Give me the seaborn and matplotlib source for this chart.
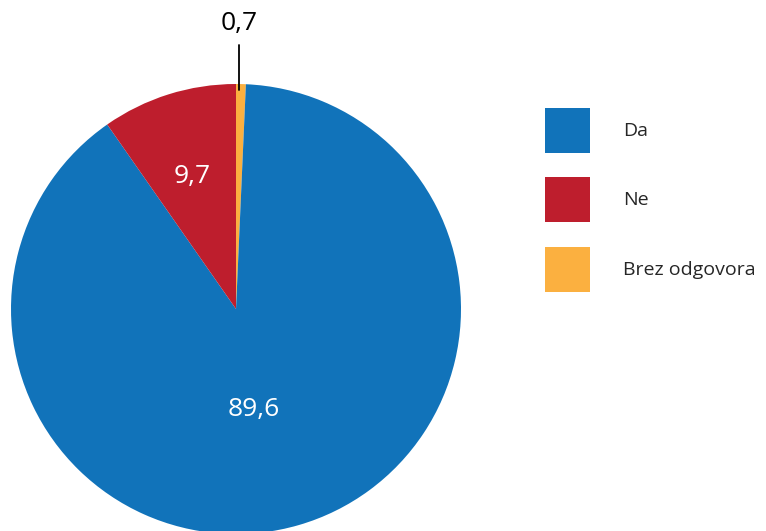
import numpy as np
import matplotlib
matplotlib.use("Agg")
import matplotlib.pyplot as plt
import seaborn as sns
from matplotlib.patches import Patch

sns.set_theme(style="white")
plt.rcParams['font.family'] = ['Open Sans', 'DejaVu Sans']

categories = ["Da", "Ne", "Brez odgovora"]
values = [89.6, 9.7, 0.7]
labels = ["89,6", "9,7", "0,7"]
colors = ["#1173BA", "#BE1E2D", "#FBB040"]

# drawing order clockwise from top: Brez, Da, Ne
order = [2, 0, 1]

fig = plt.figure(figsize=(7.66, 5.31), dpi=100)
R = 225
cx, cy = 236, 309
ax = fig.add_axes([(cx - R) / 766, (531 - cy - R) / 531, 2 * R / 766, 2 * R / 531])

wedges, _ = ax.pie([values[i] for i in order], colors=[colors[i] for i in order],
                   startangle=90, counterclock=False, radius=1,
                   wedgeprops=dict(linewidth=0))
ax.set_xlim(-1, 1)
ax.set_ylim(-1, 1)
ax.set_aspect("equal")
ax.axis("off")
for w in wedges:
    w.set_clip_on(False)

wmap = {order[k]: wedges[k] for k in range(3)}

def mid_angle(w):
    return np.deg2rad((w.theta1 + w.theta2) / 2)

# Da label
a = mid_angle(wmap[0])
ax.text(0.44 * np.cos(a) - 0.045, 0.44 * np.sin(a) - 0.022, labels[0], color="white",
        fontsize=19, ha="center", va="center")
# Ne label
a = mid_angle(wmap[1])
ax.text(0.63 * np.cos(a) - 0.005, 0.63 * np.sin(a) - 0.012, labels[1], color="white",
        fontsize=19, ha="center", va="center")
# Brez label with leader line
a = mid_angle(wmap[2])
x0 = 1.0 * np.cos(a) - 0.008
ax.plot([x0, x0], [0.975, 1.175], color="black", lw=1.3, clip_on=False)
ax.text(x0, 1.27, labels[2], color="black", fontsize=19, ha="center", va="center",
        clip_on=False)

handles = [Patch(facecolor=colors[i], edgecolor="none") for i in range(3)]
fig.legend(handles, categories, loc="upper left", bbox_to_anchor=(545 / 766, 1 - 108 / 531),
           frameon=False, fontsize=14, handlelength=2.3, handleheight=3.15,
           labelspacing=1.28, handletextpad=1.7, borderpad=0, borderaxespad=0)

fig.savefig("out.png", dpi=100)
